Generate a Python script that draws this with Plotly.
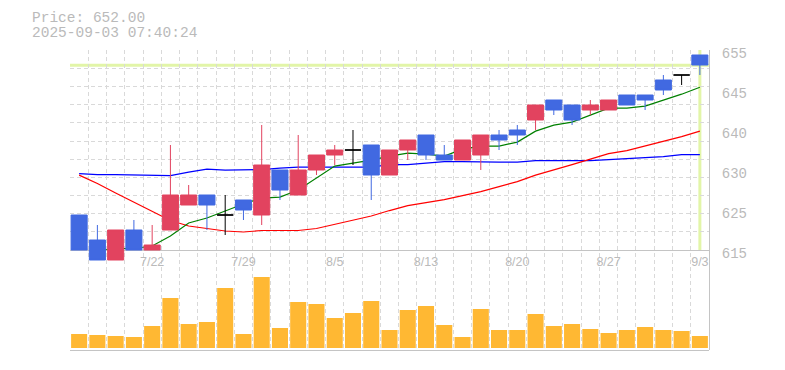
import plotly.graph_objects as go

# ---------------- data ----------------
dates = ["7/15", "7/16", "7/17", "7/18", "7/22", "7/23", "7/24", "7/25", "7/28", "7/29",
         "7/30", "7/31", "8/1", "8/4", "8/5", "8/6", "8/7", "8/8", "8/12", "8/13",
         "8/14", "8/15", "8/18", "8/19", "8/20", "8/21", "8/22", "8/25", "8/26", "8/27",
         "8/28", "8/29", "9/1", "9/2", "9/3"]
opens = [622, 617, 613, 619, 615, 619, 624, 626, 622, 625, 622, 631, 626, 631, 634, 635, 636, 630,
         635, 638, 634, 633, 634, 638, 639, 641, 645, 644, 643, 643, 646, 646, 649, 650, 654]
highs = [622, 620, 619, 621, 620, 636, 628, 626, 626, 625, 640, 631, 638, 634, 636, 639, 636, 635,
         637, 638, 636, 637, 638, 639, 640, 644, 645, 644, 645, 645, 646, 646, 650, 650, 654]
lows = [615, 613, 613, 615, 615, 619, 624, 619, 618, 621, 620, 625, 626, 630, 632, 632, 625, 630,
        633, 633, 633, 633, 631, 635, 636, 639, 642, 640, 642, 643, 644, 643, 646, 648, 650]
closes = [615, 613, 619, 615, 616, 626, 626, 624, 622, 623, 632, 627, 631, 634, 635, 635, 630, 635,
          637, 634, 633, 637, 638, 637, 638, 644, 643, 641, 644, 645, 644, 645, 647, 650, 652]
volumes = [14000, 13000, 12000, 11000, 22000, 50000, 24000, 26000, 60000, 14000, 71000, 20000,
           46000, 44000, 30000, 35000, 47000, 18000, 38000, 42000, 23000, 11000, 39000, 18000,
           18000, 34000, 22000, 24000, 19000, 15000, 18000, 21000, 18000, 17000, 12000]
ma_short = [None, 614.8, 615.3, 615.3, 615.8, 617.8, 620.4, 621.4, 622.8, 624.2, 625.4, 625.6,
            627.0, 629.4, 631.8, 632.4, 633.0, 633.8, 634.4, 634.2, 633.8, 635.2, 635.8, 635.8,
            636.6, 638.8, 640.0, 640.6, 642.0, 643.4, 643.4, 643.8, 645.0, 646.2, 647.6]
ma_mid = [630.0, 628.3, 626.4, 624.6, 622.8, 620.9, 619.8, 619.3, 618.8, 618.6, 618.9, 618.9,
          618.9, 619.3, 620.1, 621.0, 621.8, 622.9, 623.9, 624.5, 625.1, 625.9, 626.7, 627.7,
          628.7, 630.0, 631.0, 632.1, 633.2, 634.3, 634.9, 635.8, 636.7, 637.7, 638.8]
ma_long = [630.3, 630.1, 630.1, 630.0, 629.9, 629.9, 630.6, 631.2, 631.0, 631.0, 631.1, 631.4,
           631.6, 631.6, 631.6, 631.6, 631.6, 632.1, 632.1, 632.4, 632.7, 632.7, 632.6, 632.6,
           632.6, 632.9, 632.9, 632.9, 632.9, 633.1, 633.3, 633.5, 633.7, 634.1, 634.1]
current_price = 652.00
timestamp = "2025-09-03 07:40:24"
label_dates = ["7/22", "7/29", "8/5", "8/13", "8/20", "8/27", "9/3"]
price_tick_vals = [615, 623, 631, 639, 647, 655]
price_tick_text = ["615", "625", "630", "640", "645", "655"]

# ---------------- styling ----------------
UP = "#E2435F"
DOWN = "#4169E1"
VOL = "#FFB833"
GRID = "#d9d9d9"
AXIS = "#c4c4c4"
TXT = "#bababa"
HILITE = "#e2f5a8"
MONO = "Liberation Mono, DejaVu Sans Mono, monospace"

# page body has an 8px default margin: size the figure so the plot lands where the reference has it
PAGE_OFFSET = 8
W, H = 785 - PAGE_OFFSET, 370 - PAGE_OFFSET
ML, MR, MT, MB = 70 - PAGE_OFFSET, 76, 50 - PAGE_OFFSET, 20
PW = W - ML - MR

idx = list(range(len(dates)))
xr = [-0.5, len(dates) - 0.5]

doji = [i for i in idx if opens[i] == closes[i]]
body = [i for i in idx if opens[i] != closes[i]]

fig = go.Figure()

# empty trace so the full-height grid subplot (x/y) is created and drawn first
fig.add_trace(go.Scatter(x=[], y=[], mode="lines", xaxis="x", yaxis="y",
                         hoverinfo="skip", showlegend=False))

# MA lines (under candles, in the price-grid subplot)
for vals, col in ((ma_long, "#0000ff"), (ma_mid, "#ff0000"), (ma_short, "#008000")):
    fig.add_trace(go.Scatter(x=idx, y=vals, mode="lines", line=dict(color=col, width=1.2),
                             xaxis="x2", yaxis="y2", hoverinfo="skip", showlegend=False))

# candles
fig.add_trace(go.Candlestick(
    x=[idx[i] for i in body], open=[opens[i] for i in body], high=[highs[i] for i in body],
    low=[lows[i] for i in body], close=[closes[i] for i in body],
    increasing=dict(line=dict(color=UP, width=1), fillcolor=UP),
    decreasing=dict(line=dict(color=DOWN, width=1), fillcolor=DOWN),
    xaxis="x3", yaxis="y3", hoverinfo="skip", showlegend=False))
fig.add_trace(go.Candlestick(
    x=[idx[i] for i in doji], open=[opens[i] for i in doji], high=[highs[i] for i in doji],
    low=[lows[i] for i in doji], close=[closes[i] for i in doji],
    increasing=dict(line=dict(color="#000000", width=1), fillcolor="#000000"),
    decreasing=dict(line=dict(color="#000000", width=1), fillcolor="#000000"),
    xaxis="x3", yaxis="y3", hoverinfo="skip", showlegend=False))

# volume
fig.add_trace(go.Bar(x=idx, y=volumes, marker=dict(color=VOL, line=dict(width=0)),
                     xaxis="x4", yaxis="y4", hoverinfo="skip", showlegend=False))

# current price markers
fig.add_shape(type="line", xref="x2 domain", x0=0, x1=1, yref="y2", y0=current_price, y1=current_price,
              line=dict(color=HILITE, width=3), layer="below")
fig.add_shape(type="line", xref="x2", x0=idx[-1], x1=idx[-1], yref="y2 domain", y0=0, y1=1,
              line=dict(color=HILITE, width=3), layer="below")

price_bottom = 1 / 3
vol_top = 80 / 300

fig.update_layout(
    width=W, height=H,
    margin=dict(l=ML, r=MR, t=MT, b=MB, autoexpand=False),
    paper_bgcolor="white", plot_bgcolor="rgba(0,0,0,0)",
    boxgap=0.12, boxgroupgap=0, bargap=0.12,
    showlegend=False,
    # subplot 1: vertical grid across full height
    xaxis=dict(domain=[0, 1], range=xr, anchor="y", tickmode="linear", tick0=-0.5, dtick=1,
               showgrid=True, gridcolor=GRID, griddash="4px,3px", gridwidth=1,
               showticklabels=False, ticks="", zeroline=False, showline=False),
    yaxis=dict(domain=[0, 1], range=[0, 1], anchor="x", showgrid=False, showticklabels=False,
               zeroline=False, showline=False, ticks=""),
    # subplot 2: price grid, date labels, MA lines
    xaxis2=dict(domain=[0, 1], range=xr, anchor="y2", tickmode="array",
                tickvals=[dates.index(d) for d in label_dates], ticktext=label_dates,
                showgrid=False, zeroline=False, showline=True, linecolor=AXIS, linewidth=1,
                ticks="", tickfont=dict(family="Liberation Sans, Arial", size=12.5, color=TXT)),
    yaxis2=dict(domain=[price_bottom, 1], range=[price_tick_vals[0], price_tick_vals[-1] + 0.05],
                anchor="x2", tickmode="linear", tick0=price_tick_vals[0],
                dtick=(price_tick_vals[-1] - price_tick_vals[0]) / 11,
                showgrid=True, gridcolor=GRID, griddash="4px,3px", gridwidth=1,
                showticklabels=False, ticks="", zeroline=False, showline=False),
    # subplot 3: candles, right price labels
    xaxis3=dict(domain=[0, 1], range=xr, anchor="y3", visible=False, rangeslider=dict(visible=False)),
    yaxis3=dict(domain=[0, 1], range=[595, 655], anchor="x3", side="right",
                tickmode="array", tickvals=[v - 0.6 for v in price_tick_vals], ticktext=price_tick_text,
                tickfont=dict(family=MONO, size=14, color=TXT), ticklabelstandoff=9,
                showgrid=False, zeroline=False, showline=True, linecolor=AXIS, linewidth=1, ticks=""),
    # subplot 4: volume
    xaxis4=dict(domain=[0, 1], range=xr, anchor="y4", showgrid=False, showticklabels=False,
                ticks="", zeroline=False, showline=True, linecolor=AXIS, linewidth=1),
    yaxis4=dict(domain=[0, vol_top], range=[-2000, 78000], anchor="x4", visible=False),
)

fig.add_annotation(text=f"Price: {current_price:.2f}", xref="paper", yref="paper",
                   x=-40 / PW, y=(350 - 18) / 300, xanchor="left", yanchor="middle",
                   showarrow=False, font=dict(family=MONO, size=14.5, color=TXT))
fig.add_annotation(text=timestamp, xref="paper", yref="paper",
                   x=-40 / PW, y=(350 - 33) / 300, xanchor="left", yanchor="middle",
                   showarrow=False, font=dict(family=MONO, size=14.5, color=TXT))

fig.write_html("out.html")
